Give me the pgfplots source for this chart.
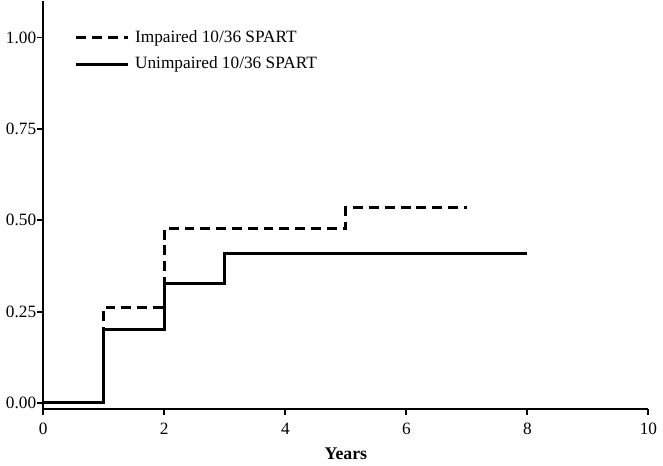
\documentclass[border=0pt]{standalone}
\usepackage{fontspec}
\setmainfont{Liberation Serif}
\usepackage{pgfplots}
\pgfplotsset{compat=1.18}

\pgfplotstableread{
x y
0 0
1 0.262
2 0.478
5 0.535
7 0.535
}\impaired

\pgfplotstableread{
x y
0 0
1 0.200
2 0.327
3 0.410
8 0.410
}\unimpaired

\begin{document}
\fontsize{18bp}{21bp}\selectfont
\begin{tikzpicture}
\begin{axis}[
  scale only axis,
  width=613bp, height=413bp,
  xmin=0, xmax=10, ymin=-0.016, ymax=1.1,
  axis x line=bottom, axis y line=left,
  axis line style={-, line width=2pt},
  every tick/.style={black, line width=2pt},
  tick align=outside, major tick length=6bp,
  xtick={0,2,...,10},
  ytick={0,0.25,0.5,0.75,1},
  /pgf/number format/assume math mode=true,
  yticklabel style={/pgf/number format/fixed, /pgf/number format/fixed zerofill, /pgf/number format/precision=2, xshift=5bp},
  xticklabel style={yshift=-2bp},
  tick label style={font=\fontsize{17.5bp}{20bp}\selectfont},
  xlabel={\textbf{Years}},
  xlabel style={font=\fontsize{18bp}{20bp}\selectfont, yshift=-1bp},
  legend style={draw=none, fill=none, at={(rel axis cs:0.052,0.933)}, anchor=north west,
    font=\fontsize{17.5bp}{20bp}\selectfont, row sep=8bp, inner sep=0pt},
  legend cell align=left,
  legend image code/.code={\draw[#1] (0bp,0bp) -- (52bp,0bp); \path (56bp,0bp);},
]
\addplot[black, line width=3pt, const plot, dash pattern=on 10bp off 6bp] table[x=x,y=y] {\impaired};
\addlegendentry{Impaired 10/36 SPART}
\addplot[black, line width=3pt, const plot] table[x=x,y=y] {\unimpaired};
\addlegendentry{Unimpaired 10/36 SPART}
\end{axis}
\end{tikzpicture}
\end{document}
